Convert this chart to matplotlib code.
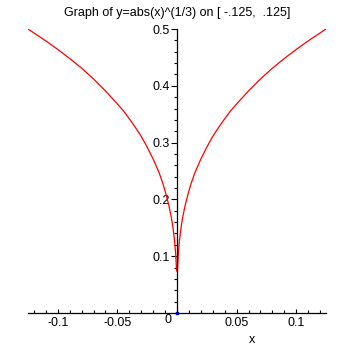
import matplotlib
matplotlib.use("Agg")
import matplotlib.pyplot as plt
from matplotlib.ticker import MultipleLocator, FixedLocator

# sample points (right branch, then mirrored left branch)
x_right = [0.0004, 0.0006, 0.001, 0.0015, 0.002, 0.003, 0.004, 0.005, 0.007,
           0.01, 0.012, 0.015, 0.02, 0.025, 0.03, 0.035, 0.04, 0.045, 0.05,
           0.06, 0.07, 0.08, 0.09, 0.1, 0.11, 0.125]
y_right = [0.074, 0.084, 0.100, 0.114, 0.126, 0.144, 0.159, 0.171, 0.191,
           0.215, 0.229, 0.247, 0.271, 0.292, 0.311, 0.327, 0.342, 0.356, 0.368,
           0.391, 0.412, 0.431, 0.448, 0.464, 0.479, 0.500]
x_left = [-0.125, -0.11, -0.1, -0.09, -0.08, -0.07, -0.06, -0.05, -0.045,
          -0.04, -0.035, -0.03, -0.025, -0.02, -0.015, -0.012, -0.01, -0.007,
          -0.005, -0.004, -0.003, -0.002, -0.0015, -0.001, -0.0006, -0.0004]
y_left = y_right[::-1]

x_ticks = [-0.1, -0.05, 0.05, 0.1]
x_labels = ["-0.1", "-0.05", "0.05", "0.1"]
y_ticks = [0.1, 0.2, 0.3, 0.4, 0.5]
y_labels = ["0.1", "0.2", "0.3", "0.4", "0.5"]

plt.rcParams['font.family'] = ['Liberation Sans', 'DejaVu Sans']

fig = plt.figure(figsize=(3.55, 3.55), dpi=100)
ax = fig.add_axes([28 / 355, 42 / 355, 298 / 355, 284 / 355])

ax.plot(x_left + x_right, y_left + y_right, color="red", lw=0.9)
ax.plot([0], [0], marker="s", ms=2, color="blue", ls="none", clip_on=False)

ax.set_xlim(-0.125, 0.125)
ax.set_ylim(0, 0.5)

for s in ["top", "right"]:
    ax.spines[s].set_visible(False)
ax.spines["left"].set_position(("data", 0))
ax.spines["bottom"].set_position(("data", 0))
ax.spines["left"].set_linewidth(0.9)
ax.spines["bottom"].set_linewidth(0.9)

ax.xaxis.set_major_locator(FixedLocator(x_ticks))
ax.set_xticklabels(x_labels)
ax.xaxis.set_minor_locator(MultipleLocator(0.01))
ax.yaxis.set_major_locator(FixedLocator(y_ticks))
ax.set_yticklabels(y_labels)
ax.yaxis.set_minor_locator(MultipleLocator(0.02))

ax.tick_params(axis="x", which="major", direction="in", length=3, width=0.8,
               labelsize=9, pad=3)
ax.tick_params(axis="x", which="minor", direction="in", length=2, width=0.8)
ax.tick_params(axis="y", which="major", direction="out", length=4, width=0.8,
               labelsize=9, pad=1)
ax.tick_params(axis="y", which="minor", direction="out", length=2.5, width=0.8)

ax.text(-0.0045, -0.002, "0", fontsize=9, ha="right", va="top")
ax.set_xlabel("x", fontsize=9)
ax.xaxis.set_label_coords((252 - 28) / 298, -0.075)

fig.text(0.5, 1 - 13 / 355, "Graph of y=abs(x)^(1/3) on [ -.125,  .125]",
         ha="center", va="center", fontsize=9)

fig.savefig("out.png", dpi=100)
